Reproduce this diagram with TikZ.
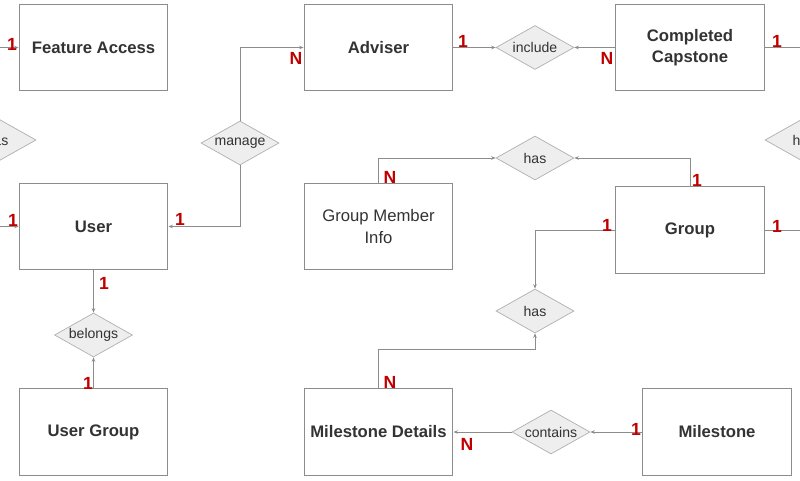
\documentclass[tikz,border=0pt]{standalone}
\usepackage{fontspec}
\setmainfont{Liberation Sans}
\usetikzlibrary{arrows.meta}
\usetikzlibrary{shapes.geometric}
\definecolor{edgegray}{HTML}{8C8C8C}
\definecolor{cardred}{HTML}{C00000}
\definecolor{textgray}{HTML}{333333}
\definecolor{relfill}{HTML}{EEEEEE}

\begin{document}
\begin{tikzpicture}[x=0.02cm, y=-0.02cm]
\tikzstyle{entity}=[rectangle,align=center,draw=edgegray,line width=0.2mm,fill=white,minimum width=2.98cm,minimum height=1.74cm,text=textgray,font=\fontsize{9.5}{12}\selectfont\bfseries]
\tikzstyle{rel}=[diamond,aspect=1.77,inner sep=0pt,draw=edgegray!70,fill=relfill,minimum width=1.56cm,minimum height=0.88cm,text=textgray,font=\fontsize{8}{9}\selectfont]
\tikzstyle{link}=[draw=edgegray,line width=0.2mm,-{Stealth[length=2.5pt,width=2pt]}]
\tikzstyle{plain}=[draw=edgegray,line width=0.2mm]
\tikzstyle{card}=[text=cardred,font=\fontsize{10}{12}\selectfont\bfseries,inner sep=0pt]
\useasboundingbox (0,0) rectangle (800,480);
\clip (0,0) rectangle (800,480);
% entities
\node[entity] at(93.5, 47.5) (fa) {Feature Access};
\node[entity] at(378.5, 47.5) (adv) {Adviser};
\node[entity] at(690, 47.5) (cc) {Completed\\Capstone};
\node[entity] at(93.5, 226.5) (usr) {User};
\node[entity,font=\fontsize{9.5}{12}\selectfont] at(378.5, 226.5) (gmi) {Group Member\\Info};
\node[entity] at(690, 230) (grp) {Group};
\node[entity] at(93.5, 432) (ug) {User Group};
\node[entity] at(378.5, 432) (md) {Milestone Details};
\node[entity] at(717, 432) (ms) {Milestone};
% relationships
\node[rel] at(-3, 140) (hasl) {has};
\node[rel] at(240, 143) (man) {manage};
\node[rel] at(535, 47.5) (inc) {include};
\node[rel] at(535, 158) (has1) {has};
\node[rel] at(535, 311) (has2) {has};
\node[rel] at(93.5, 335) (bel) {belongs};
\node[rel] at(551, 432) (con) {contains};
\node[rel] at(804, 140) (hasr) {has};
% connectors
\draw[link] (hasl.north) |- (fa.west);
\draw[link] (hasl.south) |- (usr.west);
\draw[link] (man.north) |- (adv.west);
\draw[link] (man.south) |- (usr.east);
\draw[link] (adv.east) -- (inc.west);
\draw[link] (cc.west) -- (inc.east);
\draw[plain] (cc.east) -| (hasr.north);
\draw[plain] (grp.east) -| (hasr.south);
\draw[link] (gmi.north) |- (has1.west);
\draw[link] (grp.north) |- (has1.east);
\draw[link] (grp.west) -| (has2.north);
\draw[link] (md.north) |- ([yshift=-0.32cm]has2.south) -- (has2.south);
\draw[link] (con.west) -- (md.east);
\draw[link] (ms.west) -- (con.east);
\draw[link] (usr.south) -- (bel.north);
\draw[link] (ug.north) -- (bel.south);
% cardinalities
\node[card] at(12, 44) (c1) {1};
\node[card] at(13, 220) (c2) {1};
\node[card] at(296, 58) (c3) {N};
\node[card] at(463, 41) (c4) {1};
\node[card] at(607, 58) (c5) {N};
\node[card] at(777, 41) (c6) {1};
\node[card] at(180, 219) (c7) {1};
\node[card] at(104, 283) (c8) {1};
\node[card] at(88, 383) (c9) {1};
\node[card] at(390, 177) (c10) {N};
\node[card] at(697, 180) (c11) {1};
\node[card] at(607, 225) (c12) {1};
\node[card] at(777, 226) (c13) {1};
\node[card] at(390, 382) (c14) {N};
\node[card] at(467, 444) (c15) {N};
\node[card] at(636, 429) (c16) {1};
\end{tikzpicture}
\end{document}
